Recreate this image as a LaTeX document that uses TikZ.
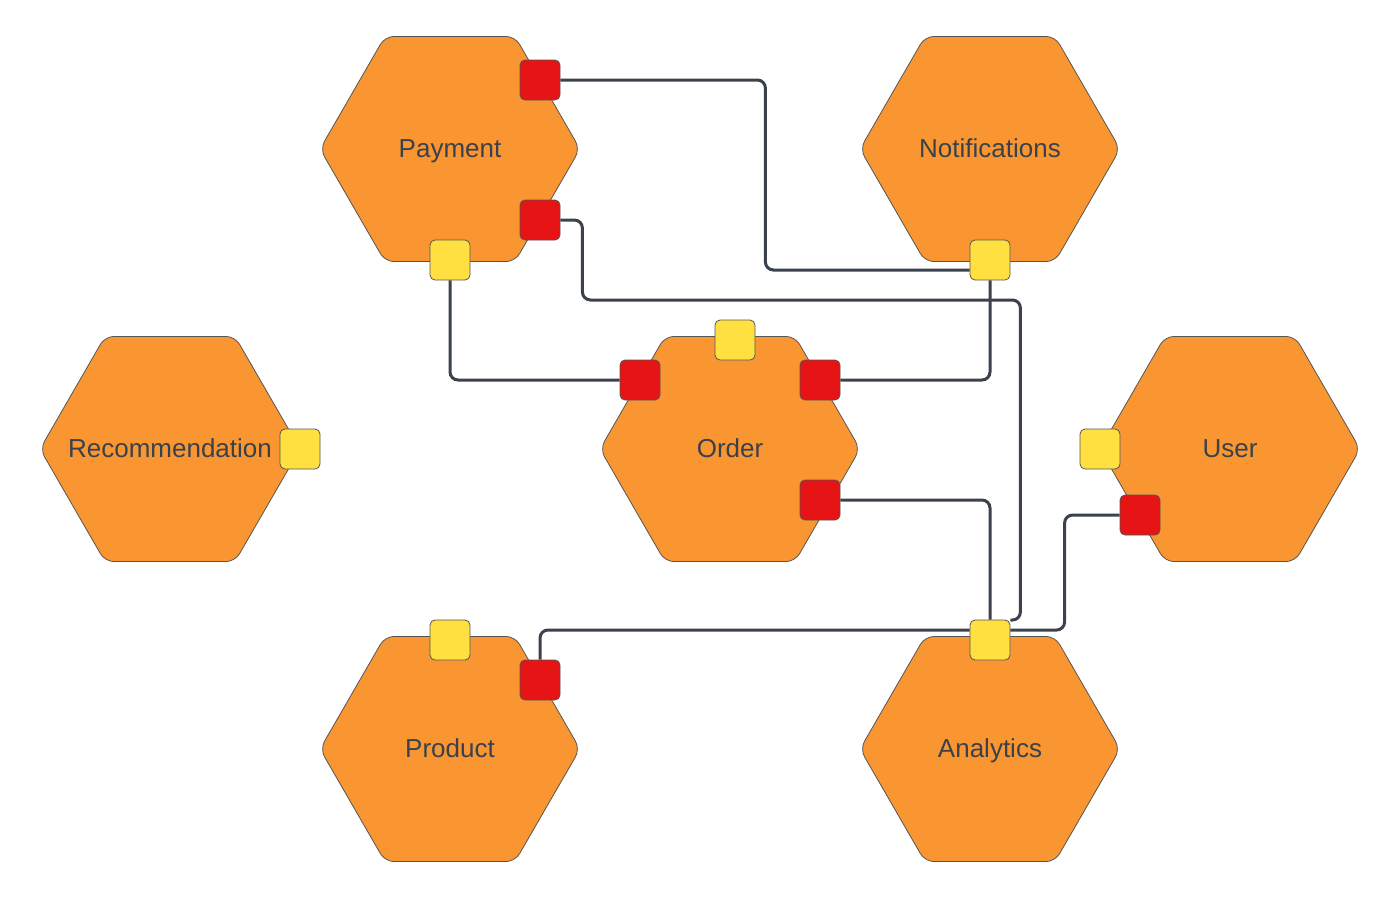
\documentclass[tikz,border=0pt]{standalone}
\usepackage{fontspec}
\setmainfont{Liberation Sans}
\usetikzlibrary{shapes.geometric}

\definecolor{hexorange}{RGB}{250,150,50}
\definecolor{portred}{RGB}{230,20,20}
\definecolor{portyellow}{RGB}{255,224,64}
\definecolor{wiregray}{RGB}{59,66,76}
\definecolor{edgegray}{RGB}{85,85,85}
\definecolor{textgray}{RGB}{58,65,74}

\begin{document}
\begin{tikzpicture}[x=1pt,y=-1pt,
    hexa/.style={regular polygon, regular polygon sides=6, minimum size=260pt,
      inner sep=0pt, fill=hexorange, draw=edgegray, line width=0.8pt,
      rounded corners=9pt,
      label={[text=textgray, font=\fontsize{26}{30}\selectfont,
        text height=17pt, text depth=0pt]center:#1}},
    port/.style={rectangle, minimum size=40pt, inner sep=0pt, rounded corners=5pt,
      draw=edgegray, line width=0.8pt},
    rport/.style={port, fill=portred},
    yport/.style={port, fill=portyellow},
    wire/.style={draw=wiregray, line width=3pt, rounded corners=8pt}]
  \useasboundingbox (0,0) rectangle (1400,898);

  % Services
  \node[hexa=Payment] (pay) at (450,149) {};
  \node[hexa=Notifications] (notif) at (990,149) {};
  \node[hexa=Recommendation] (rec) at (170,449) {};
  \node[hexa=Order] (ord) at (730,449) {};
  \node[hexa=User] (usr) at (1230,449) {};
  \node[hexa=Product] (prd) at (450,749) {};
  \node[hexa=Analytics] (ana) at (990,749) {};

  % Ports
  \node[rport] (payRa) at (540,80) {};
  \node[rport] (payRb) at (540,220) {};
  \node[yport] (payY) at (450,260) {};
  \node[yport] (notifY) at (990,260) {};
  \node[yport] (recY) at (300,449) {};
  \node[yport] (ordY) at (735,340) {};
  \node[rport] (ordRl) at (640,380) {};
  \node[rport] (ordRr) at (820,380) {};
  \node[rport] (ordRb) at (820,500) {};
  \node[yport] (usrY) at (1100,449) {};
  \node[rport] (usrR) at (1140,515) {};
  \node[yport] (prdY) at (450,640) {};
  \node[rport] (prdR) at (540,680) {};
  \node[yport] (anaY) at (990,640) {};

  % Wires
  \draw[wire] (payRa.east) -- ++(205,0) |- ([yshift=-10pt]notifY.west);
  \draw[wire] (payRb.east) -- ++(22,0) -- ++(0,80) -- ++(438,0) |- ([yshift=20pt]anaY.east);
  \draw[wire] (payY.south) |- (ordRl.west);
  \draw[wire] (notifY.south) |- (ordRr.east);
  \draw[wire] (ordRb.east) -| (anaY.north);
  \draw[wire] (usrR.west) -- ++(-55,0) |- ([yshift=10pt]anaY.east);
  \draw[wire] (prdR.north) |- ([yshift=10pt]anaY.west);
\end{tikzpicture}
\end{document}
